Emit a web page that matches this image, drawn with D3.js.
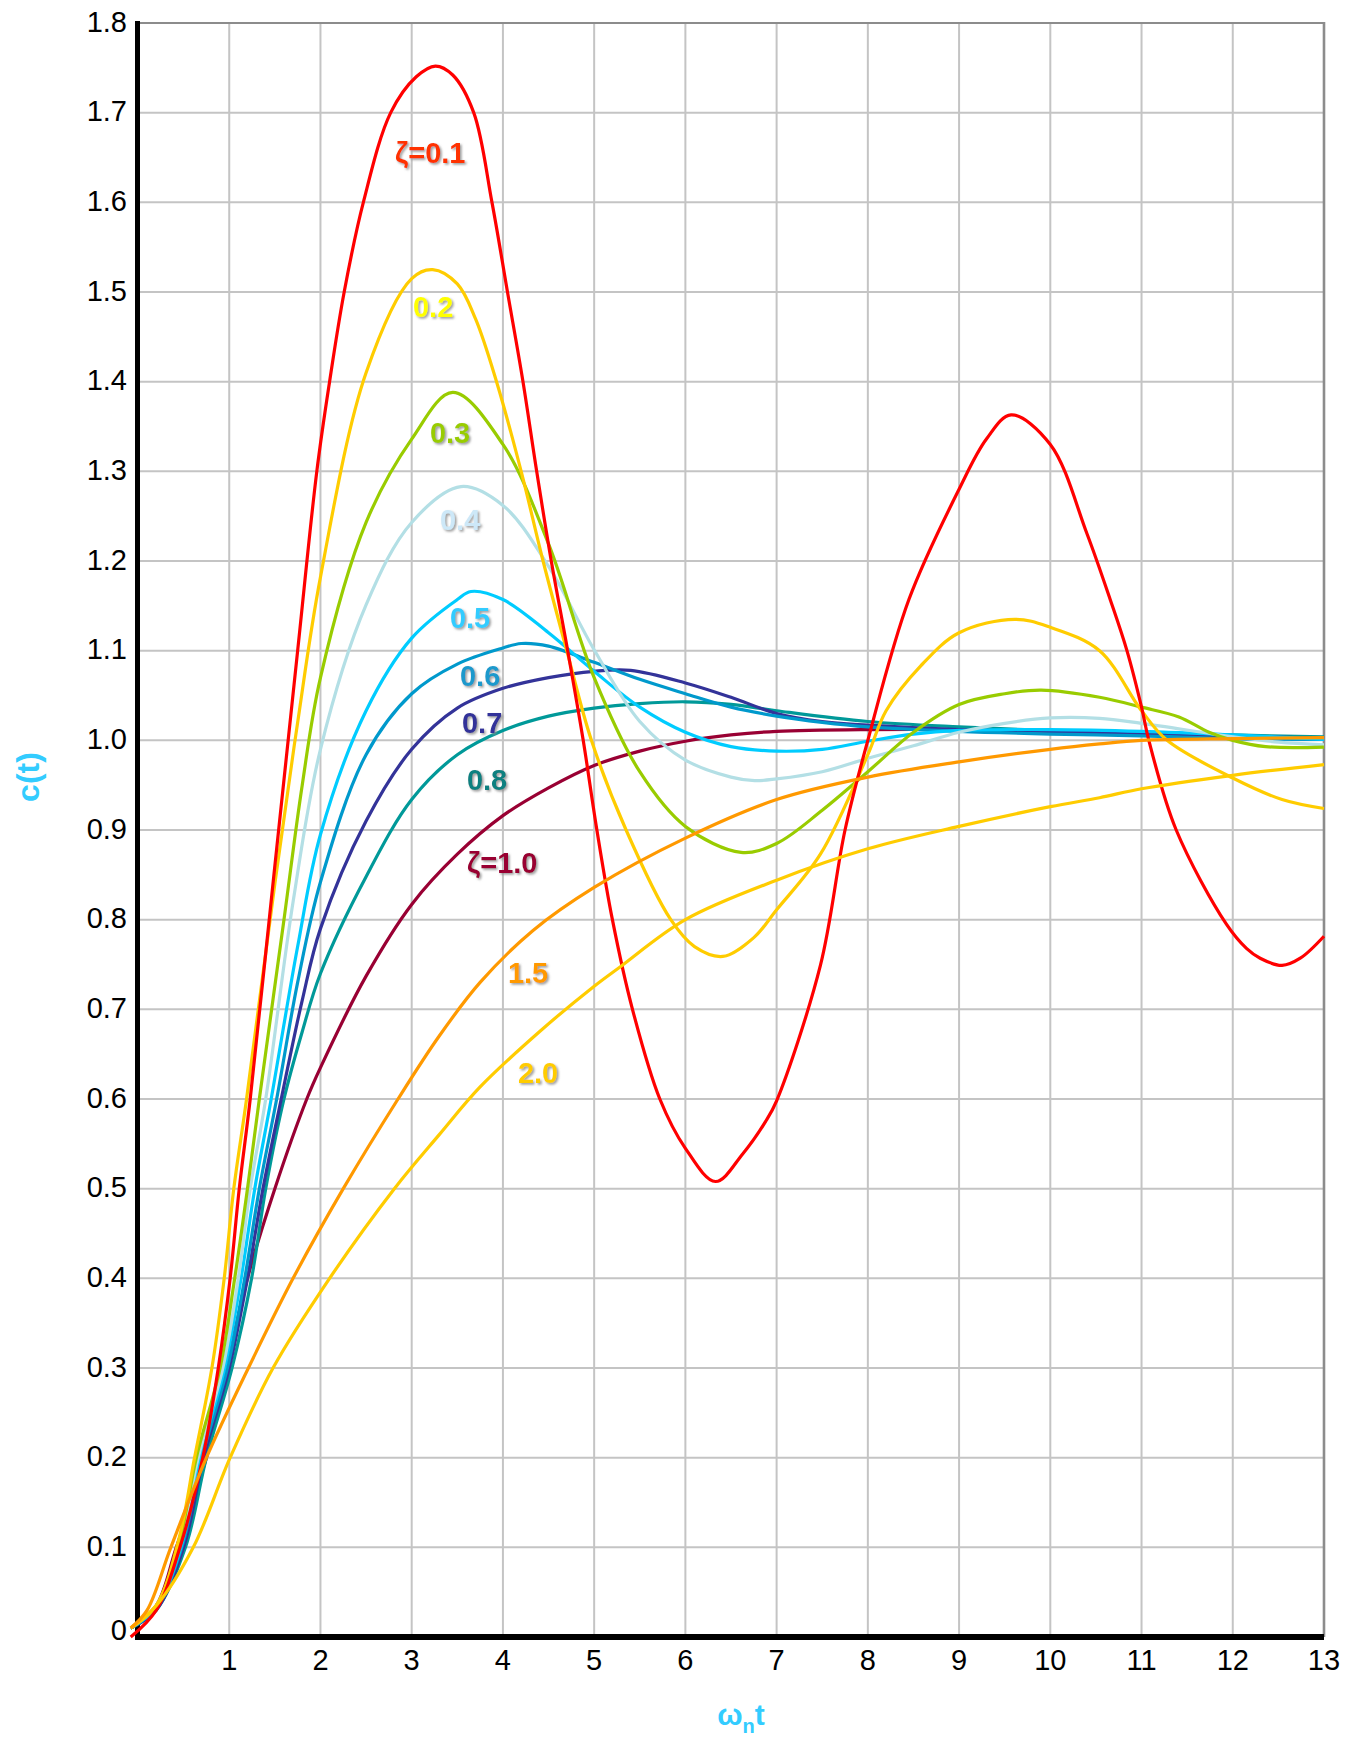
<!DOCTYPE html>
<html>
<head>
<meta charset="utf-8">
<script src="https://cdn.jsdelivr.net/npm/d3@7/dist/d3.min.js"></script>
<style>
  html, body { margin: 0; padding: 0; background: #ffffff; }
  svg { display: block; }
</style>
</head>
<body>
<script>
// ---------- data ----------
const xTicks = [1,2,3,4,5,6,7,8,9,10,11,12,13];
const xTickLabels = ["1","2","3","4","5","6","7","8","9","10","11","12","13"];
const yTicks = [0,0.1,0.2,0.3,0.4,0.5,0.6,0.7,0.8,0.9,1.0,1.1,1.2,1.3,1.4,1.5,1.6,1.7,1.8];
const yTickLabels = ["0","0.1","0.2","0.3","0.4","0.5","0.6","0.7","0.8","0.9","1.0","1.1","1.2","1.3","1.4","1.5","1.6","1.7","1.8"];

const zetas = ["0.1","0.2","0.3","0.4","0.5","0.6","0.7","0.8","1.0","1.5","2.0"];

const t01 = [-0.08,0.2,0.46,0.71,0.88,1.01,1.11,1.23,1.5,1.75,1.96,2.1,2.26,2.47,2.77,3.05,3.26,3.45,3.68,3.88,4.05,4.22,4.37,4.53,4.71,4.88,5.03,5.2,5.42,5.72,6.0,6.33,6.63,6.88,7.0,7.48,7.75,8.0,8.45,9.0,9.3,9.57,10.0,10.4,10.66,10.84,11.0,11.08,11.38,11.93,12.15,12.3,12.54,12.74,13.0];
const c01 = [0.0,0.03,0.1,0.2,0.3,0.4,0.5,0.6,0.86,1.1,1.3,1.4,1.5,1.6,1.7,1.74,1.752,1.742,1.7,1.6,1.5,1.4,1.3,1.2,1.1,1.0,0.9,0.8,0.7,0.6,0.545,0.508,0.539,0.575,0.598,0.749,0.9,1.0,1.157,1.28,1.336,1.363,1.33,1.231,1.156,1.1,1.037,1.0,0.9,0.795,0.768,0.757,0.749,0.757,0.7815];

const t02 = [-0.08,0.2,0.45,0.62,0.81,0.945,1.05,1.19,1.5,1.75,2.0,2.5,3.0,3.23,3.5,3.7,3.93,4.2,4.44,4.7,4.97,5.35,5.84,6.1,6.41,6.75,7.0,7.48,8.0,8.2,8.58,9.0,9.61,10.0,10.54,11.0,11.28,12.0,12.54,13.0];
const c02 = [0.01,0.035,0.11,0.2,0.3,0.4,0.5,0.6,0.84,1.02,1.182,1.41,1.515,1.525,1.509,1.47,1.4,1.3,1.2,1.1,1.0,0.9,0.8,0.77,0.759,0.78,0.811,0.873,0.984,1.033,1.083,1.12,1.135,1.126,1.1,1.033,1.0,0.958,0.934,0.924];

const t03 = [-0.08,0.2,0.45,0.64,0.9,1.06,1.2,1.33,1.6,1.8,2.0,2.5,3.0,3.45,4.0,4.5,5.0,5.5,6.0,6.61,7.0,7.5,8.0,8.5,9.0,9.5,9.9,10.54,11.0,11.41,11.74,12.0,12.36,13.0];
const c03 = [0.01,0.035,0.105,0.2,0.3,0.4,0.5,0.6,0.8,0.95,1.07,1.243,1.336,1.388,1.33,1.219,1.07,0.965,0.904,0.875,0.885,0.922,0.965,1.009,1.04,1.052,1.056,1.048,1.037,1.026,1.009,1.0,0.993,0.9925];

const t04 = [-0.08,0.2,0.45,0.66,0.93,1.1,1.23,1.4,1.7,2.0,2.5,3.0,3.54,4.0,4.5,5.0,5.5,6.0,6.5,6.76,7.0,7.5,8.0,8.5,9.0,9.5,10.0,10.54,11.0,12.0,12.5,13.0];
const c04 = [0.01,0.035,0.1,0.2,0.3,0.4,0.5,0.6,0.82,0.99,1.151,1.243,1.283,1.262,1.194,1.101,1.021,0.978,0.959,0.955,0.957,0.965,0.98,0.994,1.009,1.019,1.025,1.0245,1.019,1.004,0.998,0.995];

const t05 = [-0.08,0.2,0.47,0.68,0.95,1.13,1.28,1.46,1.75,2.0,2.5,3.0,3.5,3.65,4.0,4.5,5.0,5.5,6.0,6.5,7.0,7.5,8.0,8.5,9.0,10.0,11.0,12.0,13.0];
const c05 = [0.01,0.033,0.1,0.2,0.3,0.4,0.5,0.6,0.77,0.895,1.033,1.114,1.157,1.166,1.157,1.12,1.077,1.037,1.009,0.993,0.988,0.99,0.999,1.007,1.011,1.012,1.01,1.006,1.001];

const t06 = [-0.08,0.2,0.48,0.7,0.98,1.17,1.33,1.52,1.75,2.0,2.5,3.0,3.5,4.0,4.2,4.5,5.0,5.5,6.0,6.5,7.0,7.5,8.0,9.0,10.0,11.0,12.0,13.0];
const c06 = [0.01,0.032,0.1,0.2,0.3,0.4,0.5,0.6,0.73,0.842,0.984,1.052,1.085,1.103,1.108,1.105,1.087,1.068,1.052,1.037,1.027,1.02,1.015,1.01,1.007,1.005,1.002,1.001];

const t07 = [-0.08,0.2,0.5,0.72,1.0,1.2,1.37,1.57,1.8,2.0,2.5,3.0,3.5,4.0,4.5,5.0,5.4,6.0,6.5,7.0,7.5,8.0,9.0,10.0,11.0,12.0,13.0];
const c07 = [0.01,0.03,0.1,0.2,0.3,0.4,0.5,0.6,0.71,0.79,0.91,0.99,1.036,1.058,1.07,1.077,1.078,1.064,1.048,1.03,1.021,1.017,1.012,1.01,1.007,1.005,1.002];

const t08 = [-0.08,0.2,0.52,0.75,1.03,1.245,1.4,1.6,1.8,2.0,2.5,3.0,3.5,4.0,4.5,5.0,5.5,6.0,6.5,7.0,8.0,9.0,10.0,11.0,12.0,13.0];
const c08 = [0.01,0.03,0.1,0.2,0.3,0.4,0.5,0.6,0.675,0.74,0.848,0.934,0.984,1.011,1.027,1.036,1.041,1.043,1.04,1.033,1.021,1.015,1.011,1.009,1.006,1.004];

const t10 = [-0.08,0.2,0.42,0.75,0.97,1.2,1.5,1.85,2.0,2.5,3.0,3.5,4.0,4.5,5.0,5.5,6.0,6.5,7.0,8.0,9.0,10.0,11.0,12.0,13.0];
const c10 = [0.01,0.035,0.1,0.2,0.3,0.4,0.5,0.6,0.635,0.737,0.817,0.873,0.916,0.947,0.972,0.988,0.999,1.006,1.01,1.012,1.012,1.01,1.008,1.005,1.003];

const t15 = [-0.08,0.1,0.36,0.75,1.21,1.7,2.25,2.85,3.3,3.75,4.33,5.0,6.0,7.0,8.0,9.0,10.0,10.54,11.0,12.0,13.0];
const c15 = [0.01,0.03,0.1,0.2,0.3,0.4,0.5,0.6,0.67,0.73,0.788,0.836,0.891,0.934,0.959,0.976,0.99,0.996,1.0,1.002,1.003];

const t20 = [-0.08,0.2,0.606,1.01,1.48,2.1,2.81,3.3,3.75,4.4,4.99,5.28,6.0,7.0,8.0,9.0,10.0,10.54,11.0,12.0,13.0];
const c20 = [0.01,0.035,0.1,0.2,0.3,0.4,0.5,0.56,0.6135,0.675,0.725,0.747,0.8,0.844,0.879,0.904,0.926,0.936,0.946,0.961,0.973];

const lineColors = ["#ff0000","#ffcc00","#99cc00","#b3dfe5","#00ccff","#0099cc","#333399","#009999","#990033","#ff9900","#ffcc00"];

// curve labels: text, anchor in data units (t, c), colour
const labelTexts  = ["ζ=0.1","0.2","0.3","0.4","0.5","0.6","0.7","0.8","ζ=1.0","1.5","2.0"];
const labelT      = [2.816,3.014,3.2,3.31,3.419,3.529,3.551,3.605,3.605,4.055,4.164];
const labelC      = [1.6444,1.4716,1.3311,1.2341,1.1249,1.0602,1.0078,0.9443,0.8517,0.7291,0.6176];
const labelColors = ["#ff3300","#ffff00","#99cc00","#cde8f8","#33ccff","#1a99cc","#333399","#0a8080","#990033","#ff9900","#ffcc00"];

const seriesT = [t01,t02,t03,t04,t05,t06,t07,t08,t10,t15,t20];
const seriesC = [c01,c02,c03,c04,c05,c06,c07,c08,c10,c15,c20];

// ---------- layout ----------
const W = 1351, H = 1739;
const x0 = 138, x1 = 1324, yTop = 23, yBot = 1637;
const x = d3.scaleLinear().domain([0, 13]).range([x0, x1]);
const y = d3.scaleLinear().domain([0, 1.8]).range([yBot, yTop]);
const FONT = "'Liberation Sans', Arial, Helvetica, sans-serif";

const svg = d3.select("body").append("svg").attr("width", W).attr("height", H);
svg.append("rect").attr("width", W).attr("height", H).attr("fill", "#fff");

const defs = svg.append("defs");
const f = defs.append("filter").attr("id", "shadow").attr("x", "-20%").attr("y", "-20%").attr("width", "150%").attr("height", "150%");
f.append("feDropShadow").attr("dx", 1.6).attr("dy", 1.6).attr("stdDeviation", 0.9)
  .attr("flood-color", "#8a8a8a").attr("flood-opacity", 0.85);

// grid
const grid = svg.append("g");
grid.selectAll("line.v").data(xTicks.filter(d => d < 13)).enter().append("line")
  .attr("x1", d => x(d)).attr("x2", d => x(d)).attr("y1", yTop).attr("y2", yBot)
  .attr("stroke", "#c4c4c4").attr("stroke-width", 2);
grid.selectAll("line.h").data(yTicks.filter(d => d > 0 && d < 1.8)).enter().append("line")
  .attr("x1", x0).attr("x2", x1).attr("y1", d => y(d)).attr("y2", d => y(d))
  .attr("stroke", "#c4c4c4").attr("stroke-width", 2);
// top and right borders
svg.append("line").attr("x1", x0).attr("x2", x1 + 1).attr("y1", y(1.8)).attr("y2", y(1.8))
  .attr("stroke", "#8c8c8c").attr("stroke-width", 2.2);
svg.append("line").attr("x1", x(13)).attr("x2", x(13)).attr("y1", yTop - 1).attr("y2", yBot)
  .attr("stroke", "#8c8c8c").attr("stroke-width", 2.6);

// axes (black, thick)
svg.append("line").attr("x1", x0 - 0.5).attr("x2", x0 - 0.5).attr("y1", yTop - 2).attr("y2", yBot + 3)
  .attr("stroke", "#000").attr("stroke-width", 5);
svg.append("line").attr("x1", x0 - 3).attr("x2", x1).attr("y1", yBot).attr("y2", yBot)
  .attr("stroke", "#000").attr("stroke-width", 6);

// tick labels
svg.append("g").selectAll("text").data(yTicks).enter().append("text")
  .attr("x", 127).attr("y", (d, i) => y(d) + (i === 0 ? 3 : 8.5))
  .attr("text-anchor", "end").attr("font-family", FONT).attr("font-size", 29).attr("fill", "#000")
  .text((d, i) => yTickLabels[i]);
svg.append("g").selectAll("text").data(xTicks).enter().append("text")
  .attr("x", d => x(d)).attr("y", 1670)
  .attr("text-anchor", "middle").attr("font-family", FONT).attr("font-size", 29).attr("fill", "#000")
  .text((d, i) => xTickLabels[i]);

// curves
const line = d3.line().x(d => x(d[0])).y(d => y(d[1])).curve(d3.curveCatmullRom.alpha(0.5));
const order = [8,7,6,5,4,3,2,1,0,10,9];
const curves = svg.append("g");
order.forEach(i => {
  const pts = seriesT[i].map((t, k) => [t, seriesC[i][k]]);
  curves.append("path").datum(pts).attr("d", line)
    .attr("fill", "none").attr("stroke", lineColors[i]).attr("stroke-width", 3.2)
    .attr("stroke-linejoin", "round");
});

// curve labels
svg.append("g").selectAll("text").data(labelTexts).enter().append("text")
  .attr("x", (d, i) => x(labelT[i])).attr("y", (d, i) => y(labelC[i]))
  .attr("font-family", FONT).attr("font-weight", "bold").attr("font-size", 29)
  .attr("fill", (d, i) => labelColors[i]).attr("filter", "url(#shadow)")
  .text(d => d);

// axis titles
const xt = svg.append("text").attr("x", 741).attr("y", 1725).attr("text-anchor", "middle")
  .attr("font-family", FONT).attr("font-weight", "bold").attr("font-size", 30).attr("fill", "#33ccff");
xt.append("tspan").text("ω");
xt.append("tspan").attr("font-size", 20).attr("dy", 8).text("n");
xt.append("tspan").attr("dy", -8).text("t");

svg.append("text").attr("transform", "translate(39,777) rotate(-90)").attr("text-anchor", "middle")
  .attr("font-family", FONT).attr("font-weight", "bold").attr("font-size", 32).attr("fill", "#33ccff")
  .text("c(t)");
</script>
</body>
</html>
